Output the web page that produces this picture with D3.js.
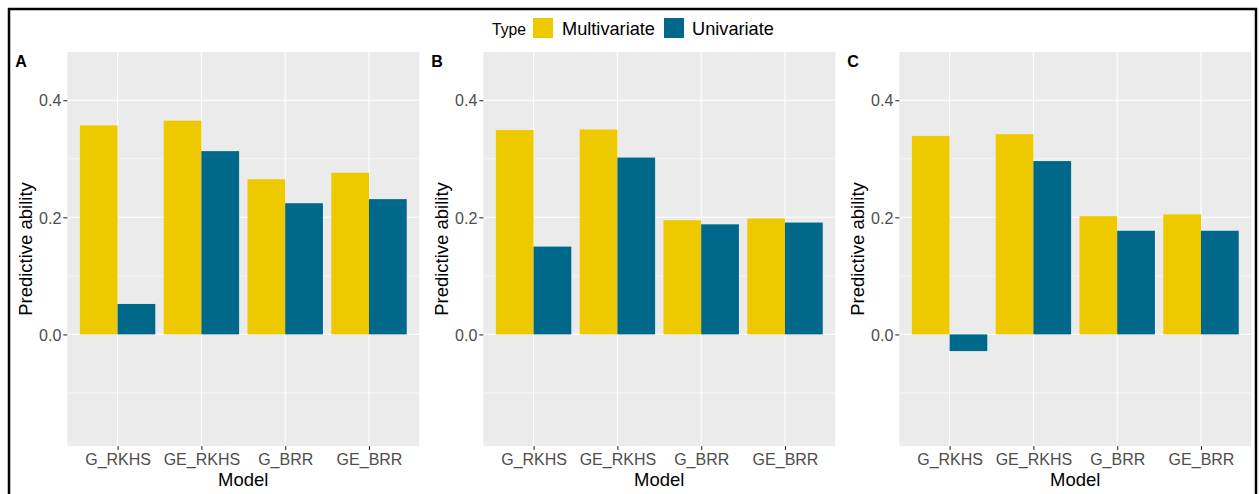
<!DOCTYPE html>
<html><head><meta charset="utf-8">
<script src="https://cdn.jsdelivr.net/npm/d3@7"></script>
<style>
html,body{margin:0;padding:0;background:#fff;}
svg{display:block;font-family:"Liberation Sans",Arial,sans-serif;}
</style></head>
<body>
<svg id="chart" width="1259" height="494"></svg>
<script>
const categories = ["G_RKHS","GE_RKHS","G_BRR","GE_BRR"];
const types = ["Multivariate","Univariate"];
const panelLabels = ["A","B","C"];
const multiA = [0.357, 0.365, 0.265, 0.276];
const uniA   = [0.052, 0.313, 0.224, 0.231];
const multiB = [0.349, 0.350, 0.195, 0.198];
const uniB   = [0.150, 0.302, 0.188, 0.191];
const multiC = [0.339, 0.342, 0.202, 0.205];
const uniC   = [-0.0285, 0.296, 0.177, 0.177];
const yTicks = [0.0, 0.2, 0.4];
const yMinor = [-0.1, 0.1, 0.3];
const colors = ["#EEC900", "#00688B"];

const panels = [
  {label: panelLabels[0], multi: multiA, uni: uniA, left: 67.3},
  {label: panelLabels[1], multi: multiB, uni: uniB, left: 483.3},
  {label: panelLabels[2], multi: multiC, uni: uniC, left: 899.3}
];

const svg = d3.select("#chart");
const pTop = 52, pBottom = 446, pw = 352;

// outer border
svg.append("rect").attr("x", 9).attr("y", 9).attr("width", 1247).attr("height", 500)
  .attr("fill", "none").attr("stroke", "#000").attr("stroke-width", 2.5);

const y = d3.scaleLinear().domain([-0.1906, 0.4823]).range([pBottom, pTop]);
const color = d3.scaleOrdinal().domain(types).range(colors);

panels.forEach((p) => {
  const step = pw / 4.2;
  const cx = d3.scalePoint().domain(categories).range([p.left + 0.6*step, p.left + pw - 0.6*step]);
  const barW = 0.9 * step;
  const xs = d3.scaleBand().domain(types).range([-barW/2, barW/2]);

  const g = svg.append("g");
  g.append("rect").attr("x", p.left).attr("y", pTop).attr("width", pw).attr("height", pBottom - pTop).attr("fill", "#EBEBEB");
  yMinor.forEach(v => g.append("line").attr("x1", p.left).attr("x2", p.left + pw).attr("y1", y(v)).attr("y2", y(v)).attr("stroke", "#fff").attr("stroke-width", 0.55));
  yTicks.forEach(v => g.append("line").attr("x1", p.left).attr("x2", p.left + pw).attr("y1", y(v)).attr("y2", y(v)).attr("stroke", "#fff").attr("stroke-width", 1.1));
  categories.forEach(c => g.append("line").attr("x1", cx(c)).attr("x2", cx(c)).attr("y1", pTop).attr("y2", pBottom).attr("stroke", "#fff").attr("stroke-width", 1.1));

  const data = [];
  categories.forEach((c, i) => {
    data.push({cat: c, type: types[0], v: p.multi[i]});
    data.push({cat: c, type: types[1], v: p.uni[i]});
  });
  g.selectAll("rect.bar").data(data).enter().append("rect").attr("class", "bar")
    .attr("x", d => cx(d.cat) + xs(d.type))
    .attr("width", xs.bandwidth())
    .attr("y", d => Math.min(y(d.v), y(0)))
    .attr("height", d => Math.abs(y(d.v) - y(0)))
    .attr("fill", d => color(d.type));

  // y axis
  const yAxis = d3.axisLeft(y).tickValues(yTicks).tickFormat(d3.format(".1f")).tickSize(4).tickPadding(2);
  const ya = g.append("g").attr("transform", `translate(${p.left},0)`).call(yAxis);
  ya.select(".domain").remove();
  ya.selectAll("line").attr("stroke", "#333").attr("stroke-width", 1.1);
  ya.selectAll("text").attr("fill", "#4D4D4D").style("font-size", "16px").attr("dy", "0.36em");

  // x axis
  const xAxis = d3.axisBottom(cx).tickSize(4).tickPadding(4);
  const xa = g.append("g").attr("transform", `translate(0,${pBottom})`).call(xAxis);
  xa.select(".domain").remove();
  xa.selectAll("line").attr("stroke", "#333").attr("stroke-width", 1.1);
  xa.selectAll("text").attr("fill", "#4D4D4D").style("font-size", "16px");

  // axis titles
  g.append("text").attr("x", p.left + pw/2).attr("y", 486).attr("text-anchor", "middle")
    .style("font-size", "18.5px").attr("fill", "#000").text("Model");
  g.append("text").attr("transform", `translate(${p.left - 35},${(pTop+pBottom)/2}) rotate(-90)`)
    .attr("text-anchor", "middle").style("font-size", "18.5px").attr("fill", "#000").text("Predictive ability");

  // panel label
  g.append("text").attr("x", p.left - 52).attr("y", 67).style("font-size", "16px").style("font-weight", "bold")
    .attr("fill", "#000").text(p.label);
});

// legend
const lg = svg.append("g");
lg.append("text").attr("x", 492).attr("y", 35).style("font-size", "15.7px").attr("fill", "#000").text("Type");
const keyX = [533, 664];
const labX = [562, 692];
types.forEach((t, i) => {
  lg.append("rect").attr("x", keyX[i]).attr("y", 18).attr("width", 20).attr("height", 20).attr("fill", color(t));
  lg.append("text").attr("x", labX[i]).attr("y", 35).style("font-size", "18.2px").attr("fill", "#000").text(t);
});
</script>
</body></html>
